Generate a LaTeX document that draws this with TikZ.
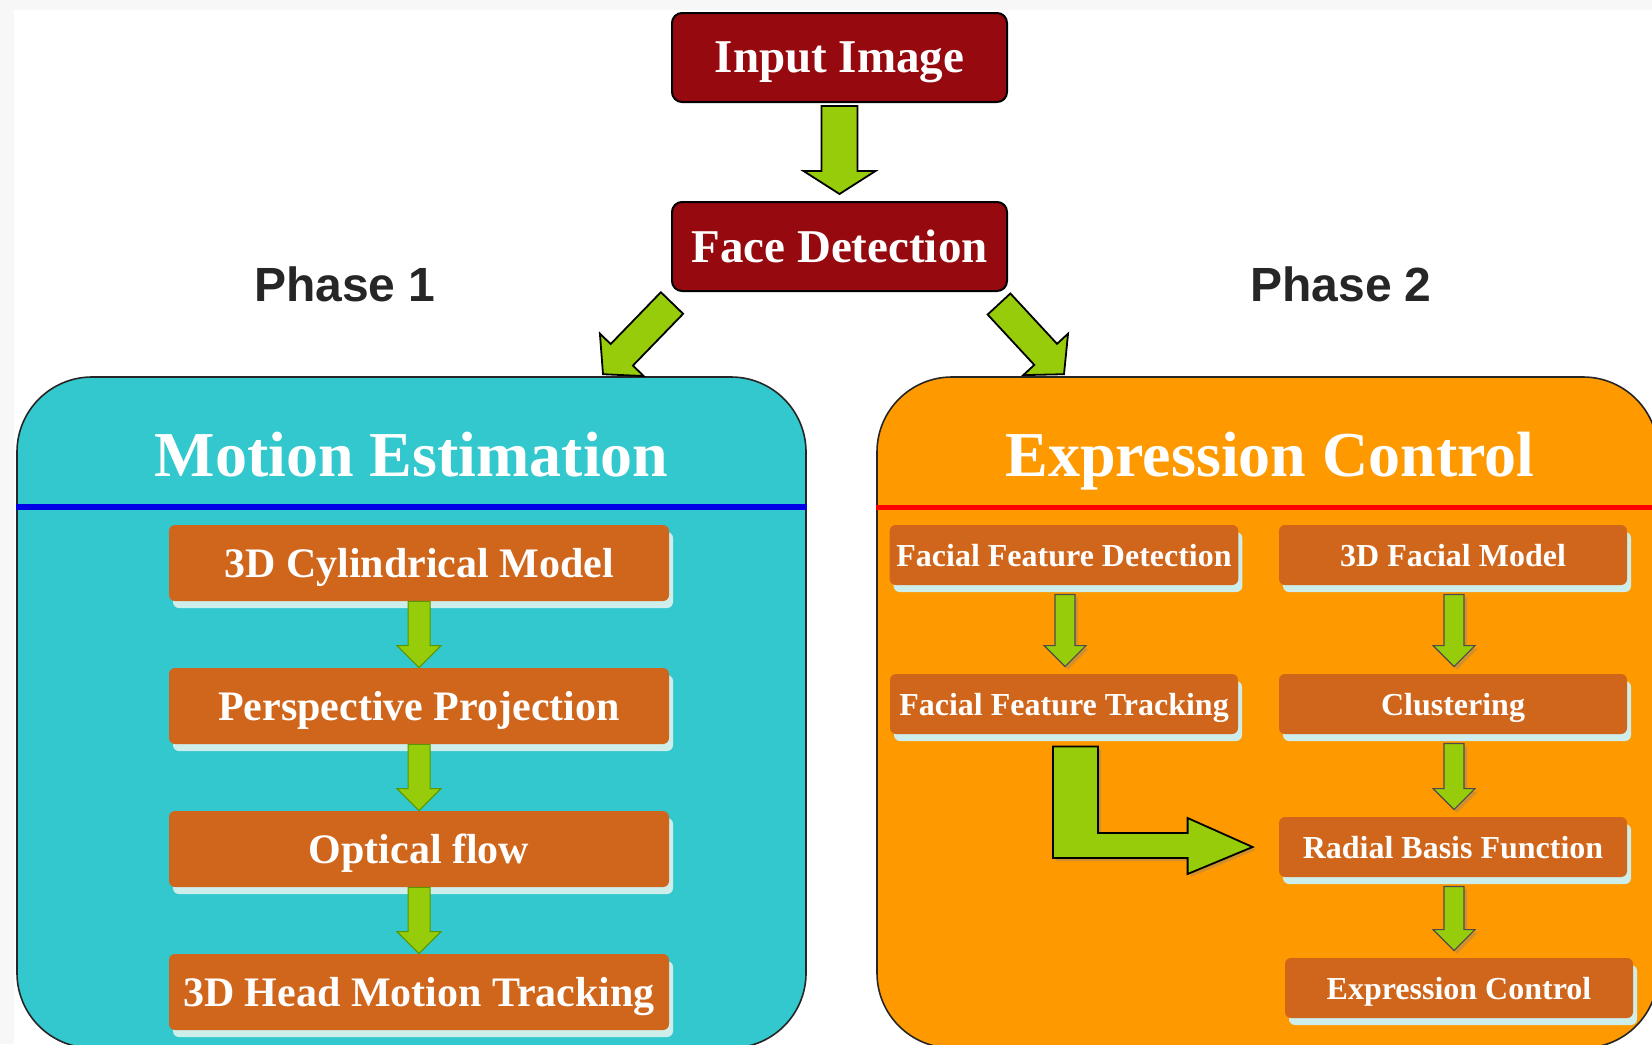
\documentclass[tikz,border=0pt]{standalone}
\usepackage{fontspec}
\setmainfont{Liberation Serif}
\newfontfamily\phasefont{Liberation Sans}
\usetikzlibrary{calc,shadows}

\definecolor{darkred}{RGB}{150,10,15}
\definecolor{panelteal}{RGB}{50,200,205}
\definecolor{panelorange}{RGB}{255,153,0}
\definecolor{stepbrown}{RGB}{208,102,28}
\definecolor{glowcyan}{RGB}{205,238,235}
\definecolor{arrowgreen}{RGB}{150,204,10}
\definecolor{lineblue}{RGB}{0,0,230}
\definecolor{linered}{RGB}{255,0,0}

% block arrow: [style]{from}{to}{shaft half width}{head half width}{head length}
\newcommand{\garrow}[6][]{%
  \coordinate (ga-s) at (#2);
  \coordinate (ga-e) at (#3);
  \coordinate (ga-h) at ($(ga-e)!#6!(ga-s)$);
  \draw[greenarrow,#1] ($(ga-s)!#4!90:(ga-e)$) -- ($(ga-h)!#4!90:(ga-e)$)
    -- ($(ga-h)!#5!90:(ga-e)$) -- (ga-e) -- ($(ga-h)!#5!-90:(ga-e)$)
    -- ($(ga-h)!#4!-90:(ga-e)$) -- ($(ga-s)!#4!-90:(ga-e)$) -- cycle;}

\tikzset{
  darkbox/.style={draw=black, line width=1pt, fill=darkred, rounded corners=5pt,
    text=white, minimum width=167.5pt, minimum height=44.5pt, text depth=0pt,
    font=\fontsize{23.5}{28}\selectfont\bfseries},
  panel/.style={draw=black!85, line width=0.8pt, rounded corners=37.5pt,
    minimum height=335.5pt},
  paneltitle/.style={anchor=base, text=white, font=\fontsize{32}{38}\selectfont\bfseries},
  stepleft/.style={fill=stepbrown, rounded corners=3pt, text=white,
    minimum width=250pt, minimum height=38pt, text depth=0pt,
    font=\fontsize{21}{25}\selectfont\bfseries,
    general shadow={fill=glowcyan, shadow xshift=2pt, shadow yshift=-3.5pt}},
  stepright/.style={stepleft, minimum width=174pt, minimum height=30pt,
    font=\fontsize{16}{19}\selectfont\bfseries},
  greenarrow/.style={fill=arrowgreen, draw=black, line width=0.9pt},
  smallarrow/.style={draw={rgb,255:red,90;green,150;blue,0}, line width=0.5pt},
  shadedarrow/.style={draw=black!70, line width=0.6pt,
    drop shadow={opacity=0.35, shadow xshift=1.5pt, shadow yshift=-1.5pt}},
  phase/.style={text=black!85, font=\phasefont\fontsize{24}{28}\selectfont\bfseries},
}

\begin{document}
\begin{tikzpicture}[x=0.5pt, y=-0.5pt]
    \useasboundingbox (0,0) rectangle (1652,1044);
    \fill[black!3] (0,0) rectangle (1652,1044);
    \fill[white] (14,10) rectangle (1652,1044);

    % the two phases
    \node[panel, fill=panelteal, minimum width=394.5pt] (motion) at (411.5,712.5) {};
    \node[panel, fill=panelorange, minimum width=390.5pt] (expr) at (1267.5,712.5) {};
    \node[paneltitle] (motiontitle) at (411.5,476) {Motion Estimation};
    \node[paneltitle] (exprtitle) at (1270,476) {Expression Control};
    \draw[lineblue, line width=3pt] (motion.west |- 0,507) -- (motion.east |- 0,507);
    \draw[linered, line width=2.5pt] (expr.west |- 0,507) -- (expr.east |- 0,507);

    \node (phase1) [phase] at (345,284) {Phase 1};
    \node (phase2) [phase] at (1341,284) {Phase 2};

    \node[darkbox] (img) at (839.5,57.5) {Input Image};
    \node[darkbox] (face) at (839.5,246.5) {Face Detection};
    \garrow{$(img.south)+(0,3)$}{$(face.north)+(0,-7)$}{9pt}{18pt}{11.5pt}
    \garrow{$(face.south west)+(1,11)$}{$(motion.north)+(191.5,-2)$}{7.75pt}{15.25pt}{13.5pt}
    \garrow{$(face.south east)+(-9,12)$}{$(expr.north)+(-203.5,-2)$}{7.75pt}{15.25pt}{13.5pt}

    % phase 1
    \node[stepleft] (cyl) at (419,563) {3D Cylindrical Model};
    \node[stepleft] (persp) at (419,706) {Perspective Projection};
    \node[stepleft] (flow) at (419,849) {Optical flow};
    \node[stepleft] (head) at (419,992) {3D Head Motion Tracking};
    \foreach \a/\b in {cyl/persp, persp/flow, flow/head}
        \garrow[smallarrow]{\a.south}{\b.north}{5.5pt}{11pt}{11pt};

    % phase 2
    \node[stepright] (ffd) at (1064,555) {Facial Feature Detection};
    \node[stepright] (fft) at (1064,704) {Facial Feature Tracking};
    \node[stepright] (fm) at (1453,555) {3D Facial Model};
    \node[stepright] (clu) at (1453,704) {Clustering};
    \node[stepright] (rbf) at (1453,847) {Radial Basis Function};
    \node[stepright] (ec) at (1459,988) {Expression Control};
    \foreach \a/\b in {ffd/fft, fm/clu, clu/rbf, rbf/ec}
        \garrow[shadedarrow]{$(\a.south)+(1,9)$}{$(\a.south |- \b.north)+(1,-7)$}{5pt}{10.5pt}{10.5pt};
    \coordinate (lstart) at ($(fft.south)+(-11,12)$);
    \draw[greenarrow, shadedarrow, line width=0.9pt, draw=black] (lstart) -- ++(45,0)
        |- ($(rbf.west)+(-91,-14)$) -- ++(0,-15) -- ($(rbf.west)+(-26,0)$)
        -- ++(-65,27) -- ++(0,-16) -| (lstart) -- cycle;
\end{tikzpicture}
\end{document}
